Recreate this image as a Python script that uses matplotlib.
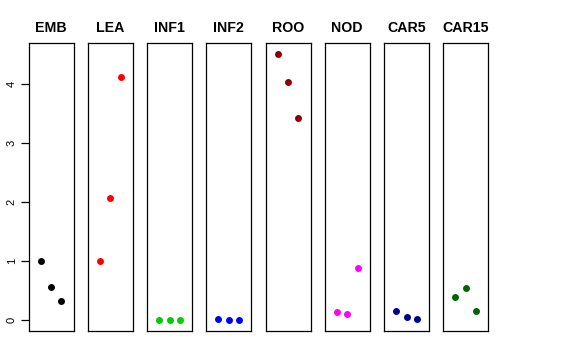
import matplotlib
matplotlib.use("Agg")
import matplotlib.pyplot as plt

plt.rcParams['font.family'] = ['Liberation Sans', 'DejaVu Sans']

panels = ["EMB", "LEA", "INF1", "INF2", "ROO", "NOD", "CAR5", "CAR15"]
colors = ["black", "red", "#00CD00", "blue", "#8B0000", "magenta", "#00008B", "#006400"]
x_pos = [1, 2, 3]
EMB = [1.0, 0.57, 0.33]
LEA = [1.0, 2.06, 4.11]
INF1 = [0.0, 0.0, 0.0]
INF2 = [0.03, 0.0, 0.0]
ROO = [4.5, 4.02, 3.41]
NOD = [0.14, 0.10, 0.89]
CAR5 = [0.16, 0.06, 0.02]
CAR15 = [0.40, 0.55, 0.15]
values = [EMB, LEA, INF1, INF2, ROO, NOD, CAR5, CAR15]
yticks = [0, 1, 2, 3, 4]

W, H = 576, 360
fig = plt.figure(figsize=(W / 100, H / 100), dpi=100)

left0 = 28.5
pw = 45.0
step = 59.25
top = 43.3
bottom = 331.0
ymin, ymax = -0.18, 4.68

for i, (name, col, vals) in enumerate(zip(panels, colors, values)):
    l = left0 + i * step
    ax = fig.add_axes([l / W, 1 - bottom / H, pw / W, (bottom - top) / H])
    ax.plot(x_pos, vals, 'o', color=col, markersize=5, markeredgewidth=0)
    ax.set_xlim(-0.16, 4.16)
    ax.set_ylim(ymin, ymax)
    ax.set_xticks([])
    for s in ax.spines.values():
        s.set_linewidth(0.9)
        s.set_color('black')
    ax.set_title(name, fontsize=10.2, fontweight='bold', pad=8)
    if i == 0:
        ax.set_yticks(yticks)
        ax.set_yticklabels([str(t) for t in yticks], rotation=90, va='center', fontsize=8)
        ax.tick_params(axis='y', length=5.5, width=0.9, pad=3)
    else:
        ax.set_yticks([])

fig.savefig("out.png", dpi=100)
